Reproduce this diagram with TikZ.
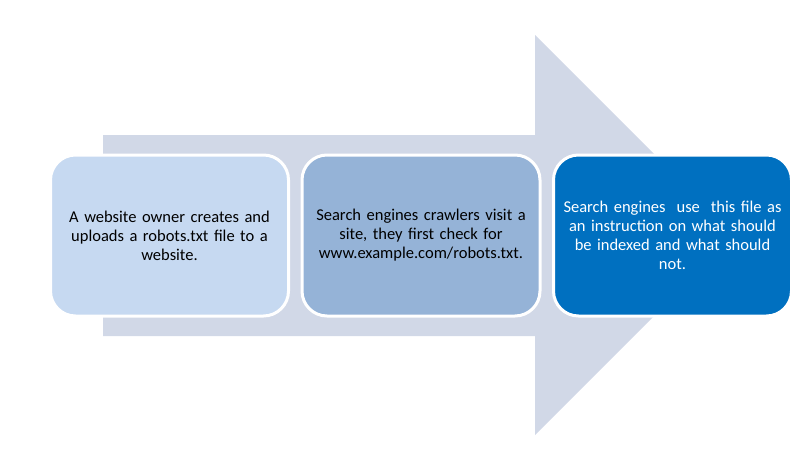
\documentclass[tikz,border=0pt]{standalone}
\usepackage{fontspec}
\setmainfont{Carlito}
\definecolor{arrowgray}{HTML}{D1D8E7}
\definecolor{stepone}{HTML}{C6D9F1}
\definecolor{steptwo}{HTML}{95B3D7}
\definecolor{stepthree}{HTML}{0070C0}
\tikzset{
  stepbox/.style={draw=white,line width=3pt,rounded corners=25pt,
    minimum width=238pt,minimum height=161pt,text width=224pt,align=center,
    font=\fontsize{16.5}{19}\selectfont},
}
\def\ymid{235.5}

\begin{document}
\begin{tikzpicture}[x=1pt,y=-1pt]
    \useasboundingbox (0,0) rectangle (807,453);

    % big background arrow
    \fill[arrowgray] (103,135) -- (535,135) -- (535,35) -- (735,235)
      -- (535,435) -- (535,336) -- (103,336) -- cycle;

    \node[stepbox,fill=stepone] (upload) at (169.5,\ymid) {
      A website owner creates and \\
      uploads a robots.txt file to a \\
      website.};
    \node[stepbox,fill=steptwo] (crawl) at (421,\ymid) {
      Search engines crawlers visit a \\
      site, they first check for \\
      www.example.com/robots.txt.};
    \node[stepbox,fill=stepthree,text=white] (index) at (672.5,\ymid) {
      Search engines\ \ use\ \ this file as \\
      an instruction on what should \\
      be indexed and what should \\
      not.};

  \end{tikzpicture}
\end{document}
